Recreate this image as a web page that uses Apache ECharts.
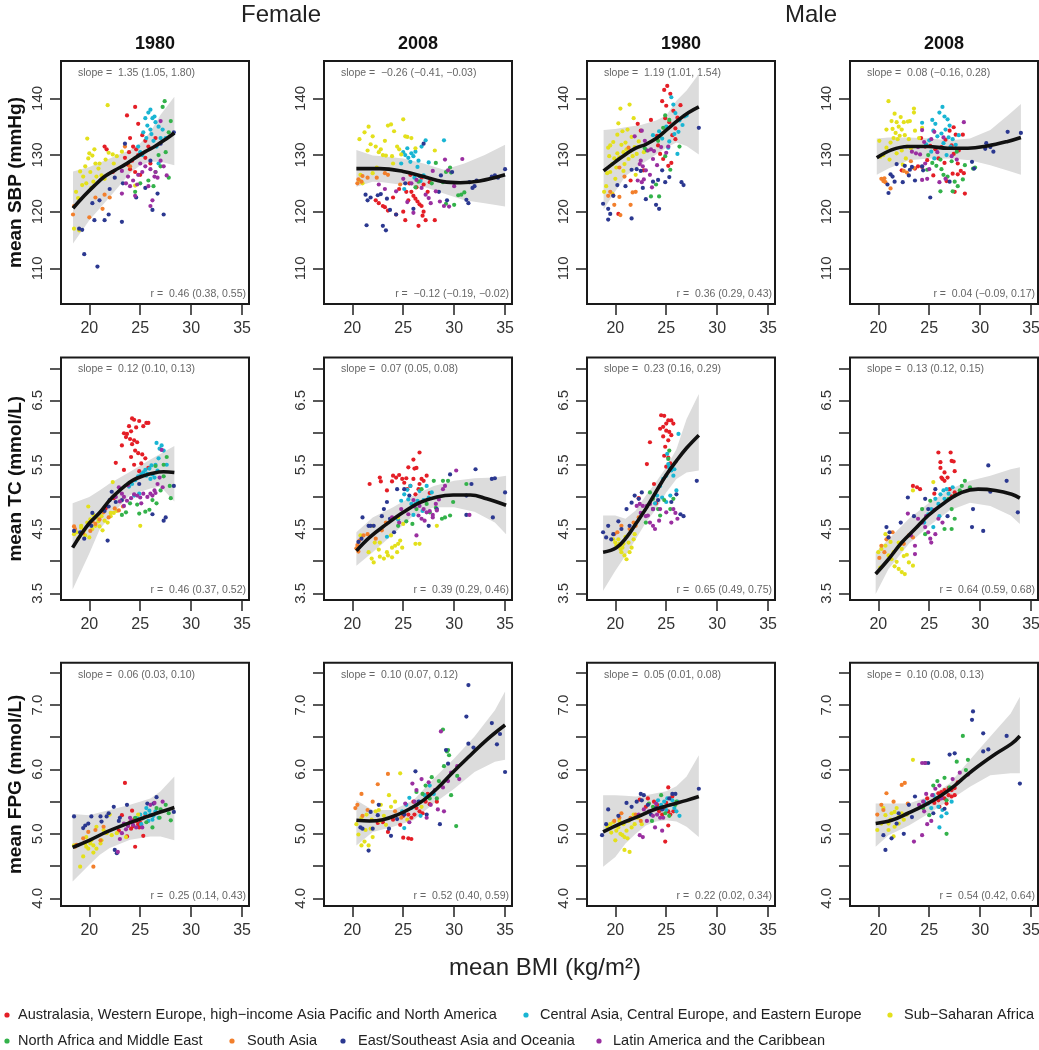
<!DOCTYPE html>
<html><head><meta charset="utf-8">
<script src="https://cdn.jsdelivr.net/npm/echarts@6/dist/echarts.min.js"></script>
<style>html,body{margin:0;padding:0;background:#fff}#c{width:1039px;height:1050px}</style>
</head><body><div id="c"></div><script>
const regions = ['Australasia, Western Europe, high\u2212income Asia Pacific and North America','Central Asia, Central Europe, and Eastern Europe','Sub\u2212Saharan Africa','North Africa and Middle East','South Asia','East/Southeast Asia and Oceania','Latin America and the Caribbean'];
const regionColors = ['#e41e26','#19b5d3','#e3e01c','#33b24a','#f27f2c','#2b3890','#9a2fa0'];
const sexLabels = ['Female','Male'];
const yearLabels = ['1980','2008','1980','2008'];
const rowTitles = ['mean SBP (mmHg)','mean TC (mmol/L)','mean FPG (mmol/L)'];
const xTitle = 'mean BMI (kg/m\u00b2)';
const xTicks = [20,25,30,35];
const sbpTicks = [110,120,130,140];
const tcTicks = [3.5,4,4.5,5,5.5,6,6.5,7];
const tcLabels = [3.5,4.5,5.5,6.5];
const fpgTicks = [4,4.5,5,5.5,6,6.5,7,7.5];
const fpgLabels = [4,5,6,7];
const slopeTexts = ['1.35 (1.05, 1.80)','\u22120.26 (\u22120.41, \u22120.03)','1.19 (1.01, 1.54)','0.08 (\u22120.16, 0.28)','0.12 (0.10, 0.13)','0.07 (0.05, 0.08)','0.23 (0.16, 0.29)','0.13 (0.12, 0.15)','0.06 (0.03, 0.10)','0.10 (0.07, 0.12)','0.05 (0.01, 0.08)','0.10 (0.08, 0.13)'];
const rTexts = ['0.46 (0.38, 0.55)','\u22120.12 (\u22120.19, \u22120.02)','0.36 (0.29, 0.43)','0.04 (\u22120.09, 0.17)','0.46 (0.37, 0.52)','0.39 (0.29, 0.46)','0.65 (0.49, 0.75)','0.64 (0.59, 0.68)','0.25 (0.14, 0.43)','0.52 (0.40, 0.59)','0.22 (0.02, 0.34)','0.54 (0.42, 0.64)'];

// points per panel: 7 region lists (flat x,y pairs) in region order
const sbpF1980 = [
[23.7,137,24.5,138.5,24.8,135.5,24,133,24.3,131.5,24.6,131,23.9,130.5,24.2,129,25.2,133.5,25.5,132.5,24,127.5,24.5,127,25,126.5,21.7,131,21.5,131.5,23.5,129.5,25.8,131.5,25.5,129.5,26,128.5,24.8,130,26.5,133,22.3,127,23.8,128.3],
[25.5,136.5,25.8,137.5,26,138,26.2,136.5,26.5,135.8,26.8,135,25.3,134,25.6,133,26,134.5,26.3,132.5,26.6,131.5,27,133,27.2,134.5,25,130.5,25.2,130,26.8,128.5,27.5,133,25.7,135.2,26.4,136.8,24.8,131.5,26.1,133.7],
[21.8,138.8,19.8,132.9,20,130.3,19.1,127.1,19.4,126.2,19.6,128,19.9,129.4,20.3,129.9,20.6,128.5,20.9,127.6,21.2,126.4,20.4,125.3,19.7,125,20.2,124.2,19.3,124.7,21.5,125.8,21.9,130.4,22.3,130.1,22.7,129.8,21.6,129.2,20.7,126.2,19,116.7,18.5,117,18.9,122.4,20.5,131,21,128.5,22.4,128.5,23.2,130.6,24.5,124.6,20.1,127,18.7,123.5],
[27.4,139.5,27.2,138.5,28,136,27.8,134,27.5,130.5,26.8,130,26.3,124.5,27.8,126,25.8,125.5,26.5,127,24.5,123.5,25,125,27,128],
[18.4,119.5,18.5,121,20,119,20.6,122.5,21.3,120.5,21.5,123,22,122.5,24,128,23.5,131.5],
[19,117,19.3,116.8,19.5,112.5,20.8,110.3,20.3,121.5,21,122,21.5,118.5,21.9,119.5,22,124,23.2,118.2,23.3,125,24.6,122.5,25.5,124.2,26.2,120.3,26.7,123.2,27.3,119.5,28.3,134,27,132,26,129,23.5,132,22.5,126,20.5,118.5],
[23.6,125,24,124.5,24.3,125.5,24.7,124.8,23.8,126.2,24.8,126.5,25.2,127,25.5,128,26,127.5,26.5,127,27,129,27.3,128,23.2,123.2,24.5,122.8,26.7,126,25.8,124.5,23.2,127.2,25,128.5,26.2,122,26,121,27.6,126.4,27,136,26.4,126.2]];
const sbpF2008 = [
[22.3,122,22.6,121.5,23,121,23.2,120.8,24,122.5,25,120,25.2,118.5,25.5,122,25.8,123.5,26,122.8,26.2,122.3,26.4,121.8,26.6,121.3,26.8,121,27,120,27.2,118.5,26.5,117.5,26.9,119.3,25.6,125,26.3,124.3,27.4,123.5,28.1,118.5,24.6,124,25.7,126.5,26.8,126,27.6,125.2,23.5,120.2,24.3,119.5,27,124.8,25.3,123.5],
[25.2,130,25.5,129.5,25.8,130.3,26,129.8,26.2,130.6,25.7,128.8,25.4,131.2,26.5,129,26.8,131.5,27.2,132.6,27.5,128.7,26.4,127.9,24.8,128.5,25,130.5,25.1,124,26.1,126,27,126.4,26.7,125.4,29,132.6],
[20.7,132.8,21.2,134,21.6,135,22,133.3,22.3,131.5,22.6,130.5,22.8,131,23,130,23.2,132.5,23.5,135.2,23.8,135.4,24.1,134.2,24.4,131.5,25,136.3,25.2,133.3,25.4,133.2,24.6,131,23.9,129.8,21.5,130.8,22,126.8,20.8,126.5,20.7,125.5,21,125,22.4,127.8,24,128.5,25.8,133,26.2,131.2,28.1,130.8,24.8,130.1,23.3,129.9,21.8,131.9],
[26.5,125.3,28.2,128.6,29.2,127,29.6,127.8,29.7,126.9,28.9,125.2,27.8,125,29.2,121.4,30,121.2,30.7,123,31,123.4,30.4,122.9,26.2,124.3],
[20.6,125.7,20.9,125.3,21,126.3,20.5,125,23.2,126.8,23.5,126.5,22.4,126,21.5,126,24.7,124.8],
[21.5,122,21.3,123,21.8,122.5,22.5,122.9,22.8,123.1,23.4,122.3,21.4,117.6,23.7,120.3,24.3,119.5,23,117.5,23.3,116.7,25.2,125,26.6,126.3,26,120.5,29.3,122,28.5,123.5,31.5,125.2,32.2,125.5,32,124.5,33.7,126.2,34,126.4,34.3,126,35,127.5,28.7,126.4,29.8,127,31.2,122.1,31.4,121.5,27,132,31.8,124.2],
[22.6,124.8,23.2,124,24.3,123.6,25,125.8,25.8,125,26.3,125.6,26.8,124.2,27.2,123,27.5,122.4,27.7,121.5,28.2,123.6,28.6,121.8,29,121,29.5,120.9,29.1,129.2,29.4,127.3,30.8,129.3,27.9,127.2,30,124.5,25.4,121.7,26,119.8]];
const sbpM1980 = [
[24.8,141.5,25.1,142.2,25.4,140.8,24.6,139.5,25,138.7,25.7,137.8,26.1,136.6,25.3,135.8,24.9,136.5,23.5,136.2,22.2,135.5,22.5,134.3,24.1,133.4,25.6,133.5,25.9,132.8,24.4,130.2,24.7,129.3,25.2,128.1,25.5,128.6,22.8,127.3,21.5,125.5,20.3,119.6,24.2,131.7,25.9,134.7,26.4,138.8],
[25.5,140.2,25.7,138.9,25.9,137.4,26.3,136.1,26.6,135.3,26.2,134.1,25.8,133.7,25,135,24.3,134.2,26.8,136.8,27,137,25.3,132.4,24.6,132.9,23.7,133.5,25.2,131.3,26.1,130.2],
[19.3,131.3,19.5,131.7,20.5,138.2,21.4,138.9,20.2,133.6,20.6,131.8,21,132.2,21.2,134.5,21.6,133.2,21.9,131.4,22.1,130.2,20.8,130.5,20.4,129.6,19.9,129.4,19.7,128.4,20.1,127.8,19.5,127,19.2,126.8,20.8,127.2,21.3,129.3,21.5,130.7,22.3,132.4,22.8,130.5,20.2,130.3,21.1,131,19.1,124.5,20,125.8,22,126.5,21.7,129.8,19.8,132.3,20.7,134.2,21.8,136.5,20.3,135.6,19.4,129.8,18.9,123.5,19.7,123.2,20.9,128.4],
[24.9,137,25.3,136.2,24.7,134.8,24.2,132.5,24.9,129.8,25.4,127.4,24,124.8,23.5,122.7,24.3,122.7,23.1,130.8,22.9,131.2,26.3,131.5],
[21.3,131.3,20.4,127.8,20.9,126.2,21.7,123.4,22,123.5,19.3,122.8,19.8,122.9,20.4,122.6,19.9,121.2,21.5,121.2,19.5,123.5,20.5,119.4],
[18.8,121.4,19.3,120.5,19.3,118.6,19.5,119.6,21.6,118.8,19.8,122.8,20.2,124.7,21,124.5,21.6,127.4,22.1,127.5,22.5,127.2,22.7,124.2,23.7,125.3,24.2,125.6,24.9,125.2,25.3,126.1,26.5,125.2,28.2,134.8,23,122.2,24,121.2,24.3,120.5,26.7,124.7,24.6,127.3],
[21.9,133.3,22.6,134.3,22.9,132.5,23.5,131,23.2,130.8,23.8,130.7,24.5,131.4,25.2,131.5,22.5,129,22.7,128,23,127.3,23.4,126.5,22.2,125.5,22.6,125.2,22.8,125.7,23.6,124.3,22.4,128.4,24.1,128.2,25,130.4,23.7,129.3]];
const sbpM2008 = [
[24.2,133,24.6,131.5,25.1,131.6,25.6,131,26.2,131.4,26.6,132.7,27,134.3,27.4,134.9,27.6,133.6,27.2,131.7,27.4,130.2,27.8,128.5,28.1,127.2,28.4,126.8,27.8,126.6,27.3,126.7,25.4,126.4,26.7,125.4,24.8,129.1,23.9,128,23.6,127.6,24.3,127.9,27.5,123.5,28.5,123.2,26.5,128.6,25.9,129.4,22.3,127.3,28.3,133.6,27.9,130.8],
[25.3,136.2,25.6,135.5,26,137.5,26.3,138.5,26.5,136.8,26.8,136.3,27,135.2,26.6,134.5,26.2,133.8,25.8,133.3,25.4,134.3,25,132.6,24.7,131.9,26.9,133.1,27.3,132.8,27.6,131.8,26.4,132.1,25.2,130.6,27.9,133.5,26.7,130,25.5,129.4,24.3,135.7,27.1,131.5],
[20.1,132.5,21,139.5,21.3,136,21.6,137.3,21.8,135.8,22,135,22.3,134.5,22.5,135.8,22.6,133.5,21.5,133,21.2,132.2,20.8,131.3,21.9,132.8,22.8,131.5,23,132.8,23.2,131.2,23.5,138.2,23.5,137.5,23.1,136,22.9,135.9,22.2,136.7,21.7,133.9,20.5,130,21.1,129.2,21.8,130.3,22.3,130.8,24,133,24.3,134.8,22.4,128.3,22.7,129.4,20.2,129.7,21.4,134.6,23.6,134.3,22.1,133.4,20.8,134.5],
[24.9,130,25.3,128.6,25.7,128.1,26.2,127.5,26.4,126.5,26.8,126.2,27.2,128.9,27.5,125.3,27.8,124.5,28.3,125.7,28.5,128.2,26.1,123.6,27.3,123.6,27.7,130.6,29.3,127.6,29.5,127.8,26.1,129.2,24.8,127.4],
[20.3,125.8,20.5,125.4,20.7,125.2,21.2,124.1,22.5,127.2,22.8,126.9,23.2,128.9,20.6,125.9,23.5,127.7],
[21.2,126.6,21.4,126.2,21.6,125.3,20.9,124.8,21,123.3,21.8,128.4,22.4,125.2,23.1,127.4,23.3,127.9,23,126.4,23.6,125.5,24.3,128,25.1,122.5,27,125.3,29.2,128.8,29.4,127.6,30.5,131.1,30.6,132.1,31,131.4,31.3,130.6,32.7,134.1,34,133.9,22.6,128.1,24.4,127.3],
[23.3,130.6,23.7,130.3,24.1,130.1,24.5,132.3,25.2,132.8,25.5,134.1,26.4,133.1,27.2,129.8,24.6,128.5,25,127.5,24.3,125.6,24.8,125.8,26.6,125.8,26,125.2,24.3,134.4,28.4,135.8,25.8,130.5,27.7,129.2,23.9,131.4]];
const tcF1980 = [
[24.2,6.22,24.4,6.2,24.9,6.18,25.6,6.15,25.8,6.15,23.9,6.1,24.6,6.08,25.3,6.1,23.4,5.99,23.7,5.98,24.1,6.02,23.6,5.93,24,5.9,24.4,5.88,24.7,5.85,23.2,5.8,24.2,5.82,24.5,5.72,24.8,5.68,25.2,5.66,24.1,5.62,25.5,5.6,22.6,5.53,23.4,5.42,24.4,5.5,25.1,5.52,21.6,4.82,22.4,4.98,24.9,5.4,25.8,5.45],
[26.6,5.84,26.9,5.75,27.1,5.8,26.5,5.5,26.1,5.49,25.9,5.44,25.5,5.42,25.3,5.38,25.1,5.35,24.8,5.32,25.7,5.36,26.2,5.35,26.4,5.3,26.7,5.41,27.3,5.72,24.5,5.26,24.2,5.2,24.4,5.02,23.9,5.16,26,5.28,25.6,5.33,27.6,5.5,26.8,5.6,24.9,5.05],
[18.5,4.42,18.8,4.45,19.2,4.55,19.5,4.48,19.8,4.6,20.1,4.65,20.3,4.5,20.6,4.55,20.9,4.62,21.2,4.7,21.5,4.63,21.8,4.6,22.1,4.7,22.4,4.75,22.7,4.78,22.3,5.23,19.9,4.85,20.4,4.72,21,4.54,19.6,4.4,20,4.37,21.3,4.48,25,4.55,22.1,4.75,20.7,4.68,18.9,4.35,19.2,4.52],
[27.6,5.62,27.3,5.5,26.5,5.48,27.3,5.32,27.9,5.17,28,4.98,26.2,4.95,26.6,4.9,25.9,4.8,25.5,4.77,24.7,4.88,24,4.9,23.2,4.72,23.6,4.76,24.9,4.74,27,5.1],
[18.5,4.54,18.6,4.5,19.4,4.44,20.3,4.62,20.6,4.58,21,4.65,21.4,4.76,21.9,4.68,22.5,4.82,22.9,4.79,23.3,4.85,20.1,4.47],
[18.5,4.47,19.1,4.45,19.5,4.35,20.2,4.55,21.5,4.78,22,4.95,22.2,5.08,21.8,4.32,22.6,4.92,24.9,5.2,27.3,4.63,27.5,4.68,28.3,5.17,23.2,4.95,26.2,4.73,21.9,4.85,20.3,4.75],
[23.2,5.05,23.4,5,23.7,4.94,24.1,4.98,24.4,5.04,24.7,5.02,25,4.99,25.3,5.05,25.7,5,26,5.05,26.4,5.1,26.7,5.2,27.2,5.15,26.9,5.3,23.8,5.18,22.6,5,23,4.93,23.4,4.86,25.1,4.9,26.2,5.02,22.9,5.15,27.1,5.73,26.5,5.06]];
const tcF2008 = [
[21.7,5.2,22.7,5.3,22.8,5.24,23.9,5.24,24.6,5.34,24.9,5.28,25.3,5.29,25.5,5.46,26,5.58,26.1,5.44,26.3,5.45,26.6,5.69,26,5.28,25.7,5.17,26.6,5.2,26.8,5.28,26.5,5.12,27,5.25,27.3,5.33,25.4,5.12,24.3,5.3,24,5.33,25.1,5.22,27.6,5.06,26.2,5.04,23.4,5.1],
[25.1,5.04,25.4,5.11,25.7,5.17,25.8,4.89,26.2,4.89,26.4,4.94,26.6,5.09,27.3,5.17,27.8,5.07,24.8,4.94,26.9,4.78,27.5,4.99,25.5,4.96,26,4.72,27,4.95,23.4,4.38,24.5,4.65],
[21.6,4.14,21.9,4.04,22.1,3.98,22.6,4.18,22.7,4.07,23.1,4.04,23.4,4.14,23.5,4.09,23.9,4.06,23.9,4.21,24.2,4.24,24.5,4.27,24.7,4.32,24.9,4.21,24.4,4.14,22.7,4.29,22.2,4.29,26.2,4.27,26.6,4.27,28.3,4.55,20.8,4.4,24.5,4.68,23.8,4.4,22,4.55,25,4.58],
[28,5.25,28.9,5.25,29.4,5.25,31.2,5.2,29.9,4.92,29.1,4.68,28.8,4.66,29.6,4.71,27.6,4.76,26.3,4.81,27.3,4.89,26.8,5.12,28.2,4.83,25.9,4.58,24.5,4.55,25.3,4.62],
[20.4,4.2,20.5,4.25,20.7,4.32,21.1,4.4,22.9,4.48,23.3,4.6,21.5,4.42,22.3,4.35,20.6,4.15],
[21,4.68,21.6,4.55,21.8,4.55,22.1,4.55,22.9,4.7,23.1,4.81,23.4,4.92,24.4,5.12,25.1,5.12,23.7,4.66,25.6,5.02,27.5,4.55,28.3,4.81,31.2,5.02,31.2,4.72,31.7,5.2,32.1,5.43,33.7,5.28,34,5.29,33.8,4.68,35,5.07,20.6,4.3,24.1,4.45,20.9,4.35,29.6,5.35],
[26.6,4.86,27,4.81,27.3,4.76,27.6,4.78,26.5,4.71,26.8,4.66,27.1,4.63,27.9,4.68,28.3,4.79,28.9,5.12,29.1,5.17,30.2,5.41,26.3,4.4,23.9,4.68,24.6,4.6,25.5,4.73,27.9,4.72,28.5,4.96,31.5,4.72,24.8,4.81,26,4.95,26.1,4.85,28.2,4.89]];
const tcM1980 = [
[24.5,6.27,24.8,6.26,25,6.14,25.2,6.19,25.5,6.19,25.7,6.14,24.4,6.06,24.7,6.09,25,6.03,25.3,6.01,25.5,5.96,24.7,5.94,25.2,5.88,24.9,5.78,23.4,5.85,24.8,5.64,23.1,5.51,25.2,5.61,25.4,5.52,25,5.47,22.3,4.98,23.8,5.2,24,4.9],
[26.2,5.98,25.1,5.67,25.2,5.51,25.5,5.41,25.7,5.33,25,5.33,24.7,5.28,24.4,5.17,24.1,5.02,25.4,5.02,25,4.92,24.6,4.99,25.8,5.43,25.3,5.46,23.9,4.9,26,5.1],
[19.8,4.34,20.1,4.24,20.5,4.19,20.8,4.27,20.6,4.14,20.9,4.09,21.1,4.03,21.4,4.14,21.6,4.21,21.3,4.29,20.3,4.34,21.8,4.34,21.9,4.42,20,4.29,21,4.38,20.4,4.27,20.7,4.21],
[25.2,5.59,25.3,5.72,25.7,4.97,23.4,5.07,23.7,4.97,24.2,4.81,24.4,4.71,25.4,4.81,24.8,4.95,23,4.6],
[20.6,4.55,21.4,4.5,21.8,4.6,22.3,4.68,20.2,4.45,19.9,4.42,22,4.55],
[18.8,4.45,19.1,4.37,19.6,4.34,19.8,4.42,20.6,4.5,21.4,4.55,21.1,4.81,21.6,4.91,21.9,5.02,22.3,4.97,22.6,5.07,23.7,4.81,26,5.04,26.4,4.73,26.7,4.7,28,5.25,25.5,4.92,19.3,4.55,20.3,4.62,24.2,4.95],
[22.1,4.86,22.4,4.89,22.7,4.86,23.1,4.86,23.4,4.89,23.7,4.81,23.2,4.71,23.4,4.6,23.7,4.55,23.9,4.5,24.4,4.81,25,4.76,25.7,4.81,25.5,4.6,26.1,4.66,23,4.7,24.3,4.63,25.9,4.75,22.5,4.75]];
const tcM2008 = [
[25.9,5.69,27.1,5.69,27.2,5.56,27.4,5.55,26.1,5.54,26.5,5.38,26.2,5.3,26.3,5.28,26.8,5.3,27.5,5.4,23.4,5.17,23.8,5.15,24.1,5.12,26.5,5.25,27,5.12,27.2,5.01,27.5,5.07,26.1,5.45,25.5,5.05],
[25.6,4.97,26.1,5.04,26.4,5.1,26.7,5.12,25.9,4.89,25.2,4.81,24.9,4.73,26.5,4.97,26.9,5.05,25.4,4.53,27.3,5.15,24.5,4.6,26,4.7],
[20,4.14,20.3,4.19,20.7,4.24,21,4.09,21.3,4.03,21.6,3.92,22,3.88,22.3,3.83,22.6,3.8,21.5,4.14,21.8,3.99,22,4.29,22.3,4.19,22.5,4.08,23,3.98,23.4,3.93,20.7,4.42,23.4,5.1,25.4,5.23,21.2,4.3,22.8,4.1,20.2,3.9],
[24.3,4.81,25.1,4.94,26.9,4.97,27.2,4.81,27.5,5.02,28,5.1,28.2,5.17,29,5.15,26.5,4.5,27.2,4.5,27.5,4.66,24.6,4.42,28.5,5.25],
[20.3,4.24,20.6,4.14,20.8,4.34,21,4.37,22.5,4.27,23,4.4,23.4,4.37,20.1,4.05,21.4,4.45],
[20.8,4.53,21,4.37,21.1,4.45,22.9,4.99,24.6,4.97,25.6,5.12,24.9,4.81,30.8,5.49,32.6,5.25,31,5.08,29.3,4.81,29.2,4.53,30.3,4.47,33.7,4.76,22.2,4.6,23.5,4.7,26.8,4.7],
[23.9,4.66,24.3,4.6,24.6,4.53,24.9,4.45,25.1,4.35,25.2,4.29,25.6,4.42,23.6,4.24,23.6,4.11,22.9,4.74,25.9,4.66,24.7,4.7,26.3,4.6,23.2,4.4,25.5,4.8]];
const fpgF1980 = [
[23.5,5.79,24.2,5.36,24.4,5.22,24.6,5.2,24.8,5.15,25,5.17,25.2,5.24,23.8,5.14,24,5.18,24.3,5.12,24.1,5.08,23.2,5.29,22.9,5.05,25.3,4.97,24.5,4.8,23.7,4.96,24.9,5.1,25.5,5.28],
[25,5.3,25.3,5.25,25.5,5.32,25.8,5.2,26,5.3,26.3,5.28,26.5,5.35,25.6,5.4,25.1,5.15,26.8,5.25,24.7,5.25,26.2,5.22,25.9,5.36],
[19.1,4.49,19.4,4.65,19.6,4.85,19.7,4.8,19.9,4.77,20.1,4.85,20.2,4.9,20.4,4.82,20.7,4.77,21.1,4.85,21.2,4.9,20.7,5.11,21.4,5.06,21.7,5.01,20.4,4.71,22,5.3,22.7,5.01,19.7,4.95,18.5,4.82,22.2,4.98,24.8,5.3,23.6,4.95],
[26.6,5.4,27,5.38,27.5,5.45,28,5.21,27.8,5.32,26.2,5.1,25.6,5.18,24.5,5.25,26.9,5.25],
[18.75,4.83,19.4,4.93,20.4,4.49,19.9,5.03,20.6,5.06,21.1,4.9,21.4,5.11,18.6,4.8],
[18.5,5.27,19.4,5.09,19.6,5.13,19.9,5.16,20.2,5.27,21.1,5.27,21.2,5.19,21.7,5.27,21.9,5.32,22.4,5.42,23.7,5.45,22.5,4.75,22.7,4.7,25.7,5.47,26.3,5.47,26.6,5.57,28.3,5.34,23,5.25,22.9,5.2],
[23.6,5.07,23.8,5.12,24.1,5.2,24.3,5.14,23.2,5.01,23,4.92,22.8,4.72,25.2,5.1,26.4,5.48,27.2,5.5,24,5.25,24.6,5.1,23.4,5.16,26,5.45]];
const fpgF2008 = [
[22.5,5.17,23,5.18,24,5.22,24.7,5.14,25,5.28,25.5,5.3,25.8,5.25,26.1,5.3,26.3,5.4,26.6,5.35,26.9,5.32,27.2,5.5,27.6,5.46,25,4.94,25.5,4.93,25.8,4.92,27.4,5.62,26,5.5,28.3,5.5,23.5,5.03],
[25.8,5.4,26.3,5.45,26.6,5.5,25.6,5.56,24.9,5.35,25.3,5.45,27.1,5.6,28,5.62,26.7,5.28,25.1,5.09,27.6,5.75],
[20.4,5.15,20.9,5.25,21.4,5.3,21.9,5.22,22.3,5.35,22.7,5.2,23.1,5.28,22.6,5.37,21.3,5.06,20.6,4.99,21.2,4.88,21.6,4.82,20.9,4.82,22,4.95,23.3,5.14,23.8,5.42,24.7,5.94,23.6,5.6,24.2,5.5,26.8,5.42,25.4,5.22,21.8,5.08,22.8,5.45],
[26.9,5.62,27.2,5.75,28.5,5.82,29,6.05,29.4,6.3,29.3,6.28,30.3,5.9,29.7,5.6,30.2,5.12,27.8,5.88,28.3,5.55,26.3,5.65,29.5,6.22,28.9,6.62,27.6,5.55],
[20.5,5.45,20.3,5.4,20.9,5.62,21.5,5.37,22.5,5.77,23.5,5.93,22,5.5,24.2,5.35,21,5.28,24.8,5.25],
[31.4,7.31,31.2,6.82,33.7,6.72,34.5,6.55,31.4,6.4,31.9,6.34,34.2,6.39,35,5.96,29.4,6.09,29.2,6.3,22.5,5.29,21.8,5.34,21,5.08,22,5.08,23.6,5.08,24.4,5.23,26.2,5.97,23.8,4.97,21.6,4.74,27.3,5.3,28.6,5.15,26.5,5.5,22.6,5.45,25.1,5.3,20.8,5.1],
[25.9,5.78,26.3,5.68,26.8,5.85,27.5,5.8,28.1,5.68,28.9,5.72,29.4,5.82,30.5,5.85,28.7,6.59,27.7,5.45,28.4,5.38,29,5.35,26.1,5.5,27.3,5.25,25.2,5.47,25.6,5.18,30.3,6.05,29.7,5.95]];
const fpgM1980 = [
[22.4,5.53,23.2,5.55,23.8,5.5,24.1,5.45,24.3,5.35,24.8,5.4,25.2,5.35,25.4,5.3,25.7,5.35,25.2,5.72,25.6,5.58,25.2,5.13,24.9,4.88,23,5.42,24.6,5.3,25,5.48],
[24.5,5.45,24.8,5.5,25.1,5.55,25.4,5.45,25.6,5.52,25.8,5.4,26,5.35,26.3,5.28,25,5.37,24.2,5.52,26.1,5.5],
[19.2,5.12,19.5,5.15,19.8,5.18,20.1,5.05,20.3,5.1,20.5,5,20.7,4.98,20.9,4.95,21.1,5.05,20.4,5.2,20.8,5.15,21.3,5.2,21.6,5.1,21.9,5.15,21.2,4.93,20.9,4.75,21.4,4.72,22.2,5.25,22.6,5.15,21.8,5.3,19.6,5.02,20,4.9],
[23.3,5.47,23.7,5.42,24.5,5.6,24.9,5.32,25.3,5.28,25.9,5.45,26,5.5,23.6,5.2],
[19.9,5.2,20.4,5.25,21.5,5.25,22,5.3,22.5,5.2,20.6,5.32],
[18.7,4.98,19.1,5.15,19.3,5.38,20.3,5.28,21.6,5.42,22.6,5.52,22.8,5.6,22.5,5.62,21.1,5.48,23.2,5.45,24,5.4,25.3,5.55,25.6,5.62,25.9,5.62,28.2,5.7,23.5,5.3,24.6,5.38,22.1,5.5],
[22.3,5.3,22.8,5.38,23.3,5.35,23.7,5.28,24.1,5.3,24.4,5.25,24.7,5.25,24,5.47,22.4,4.98,22.7,4.95,23.9,5.1,24.6,5.05,23.1,5.2]];
const fpgM2008 = [
[25.9,5.63,26.2,5.65,26.5,5.68,26.9,5.71,27.2,5.68,27.5,5.71,26.2,5.58,26.5,5.55,26.9,5.6,27.2,5.58,25.9,5.52,26.7,5.47,27.5,5.6,24.8,5.55,27.8,5.8,26,5.42,25.5,5.48],
[24.9,5.47,25.2,5.4,25.6,5.55,25.9,5.42,26.3,5.37,26.7,5.32,27.2,5.5,25.4,5.6,26.2,5.27,24.5,5.5,26,5.1],
[20.7,5.29,21,5.16,21.3,5.32,21.6,5.34,22,5.26,22.3,5.32,22,5.16,21.6,5.11,21,5.06,21.5,4.96,23.4,6.15,20.3,5.16,22.5,5.22,19.9,5.06,20.5,5.4,22.8,5.3,21.8,5.4,21.2,5.22],
[25.4,5.75,25.8,5.82,26.5,5.87,27,5.72,28.3,6.52,28.8,6.15,26.7,5.52,25,5.29,24.4,5.4,26.7,5,28.6,5.99,27.7,6.12],
[20.3,5.45,20.8,5.63,22.3,5.76,22.6,5.79,21.5,5.5,20.5,5.37,22.9,5.47,19.9,5.3],
[29.3,6.9,29.2,6.77,30.3,6.56,30.8,6.31,30.3,6.28,32.6,6.52,33.9,5.78,27,6.23,27.5,6.25,24.6,6.1,24.9,6.1,20.7,4.75,20.5,4.98,21.3,4.93,21.8,5.16,22,5.32,23.3,5.26,23.6,5.58,25.4,5.32,26.5,5.39,22.5,5,23,5.45],
[24,5.45,24.4,5.5,24.7,5.62,25.3,5.6,25.6,5.7,26,5.75,27.3,5.85,28,5.95,24.3,6.1,24.6,6.1,28.8,5.92,24.3,4.98,24.8,5.15,25.2,5.2,26.2,5.55,24.5,5.35,23.5,4.88]];

// smooth fits [x, y] and confidence bands [x, lower, upper]
const sbpF1980Fit = [[18.4,120.6],[19.5,122.8],[20.5,124.6],[21.5,126.2],[22.5,127.3],[23.5,128.3],[24.5,129.5],[25.5,130.6],[26.5,131.6],[27.5,132.8],[28.35,133.9]];
const sbpF1980Band = [[18.4,114.4,127.1],[20,118.5,127.9],[22,122.6,129.4],[24,126.8,130.9],[25,128.2,132.1],[26,128.8,134.1],[27,128.8,137.1],[28.35,128.2,140.3]];
const sbpF2008Fit = [[20.4,127.6],[21.5,127.6],[22.7,127.6],[25,127.1],[27,126.2],[28.9,125.3],[30.6,125.1],[32.5,125.4],[35,126.5]];
const sbpF2008Band = [[20.4,124.4,130.9],[22,125.3,129.9],[23,125.2,129.8],[25,124.7,129.4],[27,124.4,128.5],[29,123.2,127.4],[31,122,128.5],[33,121.5,130],[35,120.9,131.8]];
const sbpM1980Fit = [[18.85,127.2],[20,128.8],[21,130.1],[22,131.2],[23,131.9],[24,132.9],[25,134.4],[26.2,136.2],[27.2,137.5],[28.2,138.5]];
const sbpM1980Band = [[18.85,120.4,134.4],[20,123.6,134.6],[21,126.3,134.9],[22.5,128.3,135.3],[24,130.1,136.1],[25,131.3,137],[26,132.2,139.6],[27,131.6,141.4],[28.2,130.1,144.3]];
const sbpM2008Fit = [[19.85,129.5],[21.3,130.9],[22.9,131.5],[24.9,131.5],[26.8,131.2],[28.8,131.2],[30.7,131.6],[32.7,132.4],[34,133.1]];
const sbpM2008Band = [[19.85,126.5,132.9],[21,127.6,133.1],[23,129.1,133.1],[25,129.4,132.9],[27,129.4,132.6],[29,129.1,132.9],[31,128.2,134.4],[33,127.1,137.4],[34,126.5,139]];
const tcF1980Fit = [[18.36,4.21],[19.2,4.42],[20,4.59],[21.05,4.76],[22,4.95],[22.7,5.06],[23.5,5.17],[24.3,5.26],[25.2,5.32],[26,5.36],[27.3,5.39],[28.35,5.38]];
const tcF1980Band = [[18.36,3.56,4.9],[20,4.12,5],[21,4.49,5.1],[22,4.69,5.21],[24,5.03,5.39],[26,5.13,5.58],[27,5.16,5.67],[28.35,4.93,5.79]];
const tcF2008Fit = [[20.4,4.16],[21.7,4.37],[23.4,4.58],[25,4.76],[26.6,4.91],[28.3,5],[29.9,5.03],[31.6,5.03],[33.2,4.97],[35.1,4.87]];
const tcF2008Band = [[20.4,3.93,4.45],[22,4.14,4.68],[24,4.42,4.84],[26,4.71,5.02],[28,4.84,5.17],[30,4.84,5.25],[32,4.77,5.29],[34,4.6,5.3],[35.1,4.42,5.33]];
const tcM1980Fit = [[18.8,4.14],[20.1,4.21],[21.1,4.37],[22.1,4.6],[23.1,4.84],[24,5.08],[25,5.34],[26,5.56],[27,5.76],[28.2,5.96]];
const tcM1980Band = [[18.8,3.54,4.71],[20,3.85,4.71],[21,4.09,4.66],[22,4.34,4.79],[23,4.6,5.02],[24,4.81,5.23],[25,5.07,5.46],[26,5.28,5.74],[27,5.38,6.21],[28.2,5.41,6.6]];
const tcM2008Fit = [[19.74,3.8],[21,4.03],[22.3,4.29],[23.6,4.5],[24.9,4.71],[26.5,4.91],[28.2,5.07],[29.8,5.12],[31.5,5.1],[33.1,5.04],[33.9,4.98]];
const tcM2008Band = [[19.74,3.49,4.14],[21,3.88,4.34],[23,4.27,4.66],[25,4.55,4.91],[27,4.79,5.12],[29,4.91,5.25],[31,4.86,5.33],[33,4.71,5.43],[33.9,4.58,5.46]];
const fpgF1980Fit = [[18.36,4.79],[20,4.9],[21.7,5.03],[23.4,5.14],[25,5.23],[26.6,5.32],[28.35,5.41]];
const fpgF1980Band = [[18.36,4.26,5.31],[20,4.52,5.29],[21,4.67,5.33],[22,4.78,5.37],[24,4.91,5.45],[26,4.96,5.55],[27,4.96,5.66],[28.35,4.9,5.89]];
const fpgF2008Fit = [[20.4,5.21],[21.7,5.2],[23,5.22],[24.35,5.29],[25.66,5.39],[26.97,5.52],[28.3,5.7],[29.9,5.96],[31.6,6.22],[33.2,6.46],[35,6.69]];
const fpgF2008Band = [[20.4,4.82,5.52],[22,5.03,5.37],[24,5.11,5.37],[26,5.21,5.52],[28,5.47,5.86],[30,5.7,6.17],[32,5.96,6.51],[34,6.12,6.92],[35,6.15,7.21]];
const fpgM1980Fit = [[18.8,5.03],[20.5,5.16],[22.1,5.26],[23.7,5.37],[25.4,5.45],[27,5.52],[28.2,5.58]];
const fpgM1980Band = [[18.8,4.49,5.6],[20,4.64,5.6],[21,4.85,5.59],[22,5,5.58],[23,5.13,5.6],[24,5.19,5.63],[25,5.21,5.66],[26,5.19,5.74],[27,5.11,5.89],[28.2,4.95,6.22]];
const fpgM2008Fit = [[19.74,5.16],[21.3,5.21],[22.9,5.32],[24.6,5.45],[26.2,5.6],[27.5,5.75],[28.6,5.9],[29.8,6.05],[31.5,6.24],[33.1,6.4],[33.9,6.52]];
const fpgM2008Band = [[19.74,4.8,5.47],[21,4.98,5.47],[23,5.13,5.47],[25,5.32,5.58],[27,5.52,5.78],[29,5.73,6.15],[31,5.91,6.51],[33,5.94,6.87],[33.9,5.94,7.13]];

// ---------- build chart ----------
const FONT = "'Liberation Sans', Arial, Helvetica, sans-serif";
const panels = [
  [sbpF1980, sbpF1980Fit, sbpF1980Band],[sbpF2008, sbpF2008Fit, sbpF2008Band],[sbpM1980, sbpM1980Fit, sbpM1980Band],[sbpM2008, sbpM2008Fit, sbpM2008Band],
  [tcF1980, tcF1980Fit, tcF1980Band],[tcF2008, tcF2008Fit, tcF2008Band],[tcM1980, tcM1980Fit, tcM1980Band],[tcM2008, tcM2008Fit, tcM2008Band],
  [fpgF1980, fpgF1980Fit, fpgF1980Band],[fpgF2008, fpgF2008Fit, fpgF2008Band],[fpgM1980, fpgM1980Fit, fpgM1980Band],[fpgM2008, fpgM2008Fit, fpgM2008Band]
];
const rowsCfg = [
  {min:103.7, max:146.6, ticks:sbpTicks, labels:sbpTicks, dec:0},
  {min:3.396, max:7.168, ticks:tcTicks, labels:tcLabels, dec:1},
  {min:3.88, max:7.657, ticks:fpgTicks, labels:fpgLabels, dec:1}
];
const colLeft = [61, 324, 587, 850];
const rowTop = [61, 357.5, 662.7];
const rowH = [243, 242.5, 243.3];
const PW = 188;

const grids = [], xAxes = [], yAxes = [], series = [], graphics = [];
panels.forEach((p, i) => {
  const r = Math.floor(i / 4), c = i % 4, rc = rowsCfg[r];
  grids.push({left: colLeft[c], top: rowTop[r], width: PW, height: rowH[r], show: true,
    borderWidth: 2, borderColor: '#1a1a1a', backgroundColor: 'rgba(0,0,0,0)', outerBoundsMode: 'none', containLabel: false});
  xAxes.push({gridIndex: i, type: 'value', min: 17.22, max: 35.68,
    axisLine: {show: false}, splitLine: {show: false},
    axisTick: {show: true, inside: false, length: 11, customValues: xTicks, lineStyle: {color: '#222', width: 1.5}},
    axisLabel: {show: true, customValues: xTicks, margin: 17, fontSize: 16, color: '#333', fontFamily: FONT}});
  yAxes.push({gridIndex: i, type: 'value', min: rc.min, max: rc.max,
    axisLine: {show: false}, splitLine: {show: false},
    axisTick: {show: true, inside: false, length: 11, customValues: rc.ticks, lineStyle: {color: '#222', width: 1.5}},
    axisLabel: {show: true, customValues: rc.labels, rotate: 90, margin: 16, fontSize: 15, color: '#333', fontFamily: FONT,
      formatter: v => Number(v).toFixed(rc.dec)}});
  const band = p[2];
  series.push({type: 'custom', xAxisIndex: i, yAxisIndex: i, silent: true, z: 1,
    data: [[band[0][0], band[0][1]]],
    renderItem: (params, api) => {
      const pts = [];
      band.forEach(b => pts.push(api.coord([b[0], b[2]])));
      for (let k = band.length - 1; k >= 0; k--) pts.push(api.coord([band[k][0], band[k][1]]));
      return {type: 'polygon', shape: {points: pts}, style: {fill: '#dcdcdc', stroke: null}};
    }});
  p[0].forEach((flat, k) => {
    const d = [];
    for (let j = 0; j < flat.length; j += 2) d.push([flat[j], flat[j + 1]]);
    series.push({type: 'scatter', xAxisIndex: i, yAxisIndex: i, data: d, symbol: 'circle', symbolSize: 4.2,
      itemStyle: {color: regionColors[k], opacity: 1}, silent: true, z: 3});
  });
  series.push({type: 'line', xAxisIndex: i, yAxisIndex: i, data: p[1], smooth: 0.4, showSymbol: false, silent: true, z: 5,
    lineStyle: {color: '#111', width: 3.6}});
  graphics.push({type: 'text', silent: true, style: {text: 'slope =  ' + slopeTexts[i], x: colLeft[c] + 17, y: rowTop[r] + 12,
    align: 'left', verticalAlign: 'middle', fontSize: 10.5, fontFamily: FONT, fill: '#666'}});
  graphics.push({type: 'text', silent: true, style: {text: 'r =  ' + rTexts[i], x: colLeft[c] + PW - 3, y: rowTop[r] + rowH[r] - 10,
    align: 'right', verticalAlign: 'middle', fontSize: 10.5, fontFamily: FONT, fill: '#666'}});
});

// headers
graphics.push({type: 'text', silent: true, style: {text: sexLabels[0], x: 281, y: 15, align: 'center', verticalAlign: 'middle', fontSize: 24, fontFamily: FONT, fill: '#222'}});
graphics.push({type: 'text', silent: true, style: {text: sexLabels[1], x: 811, y: 15, align: 'center', verticalAlign: 'middle', fontSize: 24, fontFamily: FONT, fill: '#222'}});
yearLabels.forEach((t, c) => graphics.push({type: 'text', silent: true, style: {text: t, x: colLeft[c] + PW / 2, y: 44,
  align: 'center', verticalAlign: 'middle', fontSize: 18, fontWeight: 'bold', fontFamily: FONT, fill: '#111'}}));
rowTitles.forEach((t, r) => graphics.push({type: 'text', silent: true, x: 16, y: rowTop[r] + rowH[r] / 2, rotation: Math.PI / 2,
  style: {text: t, x: 0, y: 0, align: 'center', verticalAlign: 'middle', fontSize: 19, fontWeight: 'bold', fontFamily: FONT, fill: '#111'}}));
graphics.push({type: 'text', silent: true, style: {text: xTitle, x: 545, y: 968, align: 'center', verticalAlign: 'middle', fontSize: 24, fontFamily: FONT, fill: '#222'}});

// legend: [dot x, row y, text x]
const legendPos = [[7, 1015, 18], [526, 1015, 540], [890, 1015, 904], [7, 1041, 18], [232, 1041, 247], [343, 1041, 358], [599, 1041, 613]];
regions.forEach((name, k) => {
  const lp = legendPos[k];
  graphics.push({type: 'circle', silent: true, shape: {cx: lp[0], cy: lp[1], r: 2.6}, style: {fill: regionColors[k]}});
  graphics.push({type: 'text', silent: true, style: {text: name, x: lp[2], y: lp[1], align: 'left', verticalAlign: 'middle',
    fontSize: 14.5, fontFamily: FONT, fill: '#222'}});
});

const chart = echarts.init(document.getElementById('c'), null, {renderer: 'canvas'});
chart.setOption({animation: false, backgroundColor: '#fff', grid: grids, xAxis: xAxes, yAxis: yAxes, series: series, graphic: graphics});
</script></body></html>
